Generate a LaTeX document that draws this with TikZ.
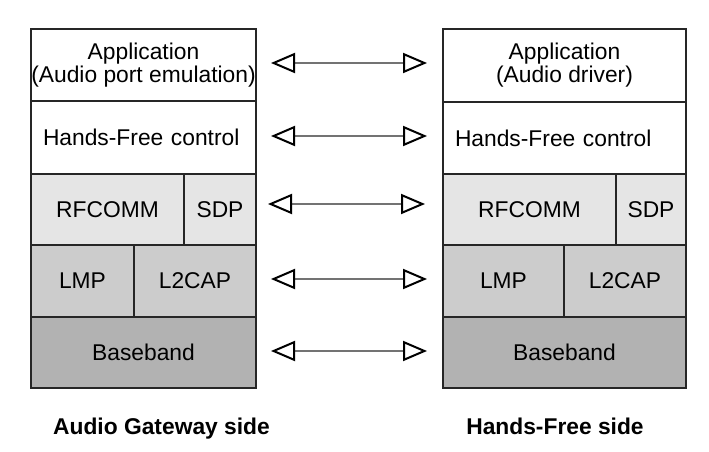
\documentclass[tikz,border=0pt]{standalone}
\usepackage{fontspec}
\setmainfont{Liberation Sans}
\usetikzlibrary{arrows.meta, positioning}

\begin{document}
\begin{tikzpicture}[
    x=1pt, y=-1pt,
    font=\fontsize{22.8}{23}\selectfont,
    layer/.style={rectangle, draw=black!85, line width=1.4pt, inner sep=0pt, outer sep=0pt, align=center},
    toplayer/.style={layer, fill=white},
    upperlayer/.style={layer, fill=black!10},
    lowerlayer/.style={layer, fill=black!20},
    baselayer/.style={layer, fill=black!30},
    ctrl/.style={toplayer, align=left, inner xsep=12pt},
    link/.style={draw=black!55, line width=1.4pt,
        {Triangle[open, length=24pt, width=20pt, line width=2pt, color=black]}-{Triangle[open, length=24pt, width=20pt, line width=2pt, color=black]}},
    side/.style={font=\fontsize{22.8}{23}\selectfont\bfseries, anchor=base}
]
    \useasboundingbox (0,0) rectangle (709,452);

    % Audio Gateway stack
    \node[toplayer, minimum width=225pt, minimum height=72pt] (lapp) at (143.5,65) {Application\\(Audio port emulation)};
    \node[ctrl, minimum width=225pt, minimum height=73pt, text width=201pt, below=0pt of lapp] (lhf) {Hands-Free control};
    \node[upperlayer, minimum width=153pt, minimum height=71pt, anchor=north west] (lrf) at (lhf.south west) {RFCOMM};
    \node[upperlayer, minimum width=72pt, minimum height=71pt, anchor=north west] (lsdp) at (lrf.north east) {SDP};
    \node[lowerlayer, minimum width=103pt, minimum height=72pt, anchor=north west] (llmp) at (lrf.south west) {LMP};
    \node[lowerlayer, minimum width=122pt, minimum height=72pt, anchor=north west] (ll2cap) at (llmp.north east) {L2CAP};
    \node[baselayer, minimum width=225pt, minimum height=71pt, anchor=north west] (lbb) at (llmp.south west) {Baseband};

    % Hands-Free stack
    \node[toplayer, minimum width=243pt, minimum height=73pt] (rapp) at (564.5,65.5) {Application\\(Audio driver)};
    \node[ctrl, minimum width=243pt, minimum height=72pt, text width=219pt, below=0pt of rapp] (rhf) {Hands-Free control};
    \node[upperlayer, minimum width=173pt, minimum height=71pt, anchor=north west] (rrf) at (rhf.south west) {RFCOMM};
    \node[upperlayer, minimum width=70pt, minimum height=71pt, anchor=north west] (rsdp) at (rrf.north east) {SDP};
    \node[lowerlayer, minimum width=121pt, minimum height=72pt, anchor=north west] (rlmp) at (rrf.south west) {LMP};
    \node[lowerlayer, minimum width=122pt, minimum height=72pt, anchor=north west] (rl2cap) at (rlmp.north east) {L2CAP};
    \node[baselayer, minimum width=243pt, minimum height=71pt, anchor=north west] (rbb) at (rlmp.south west) {Baseband};

    % Peer links
    \coordinate (appw) at (271,63);  \coordinate (appe) at (427,63);
    \coordinate (hfw) at (271,136);  \coordinate (hfe) at (427,136);
    \coordinate (rfw) at (268,204);  \coordinate (rfe) at (425,204);
    \coordinate (lmpw) at (271,279); \coordinate (lmpe) at (427,279);
    \coordinate (bbw) at (271,351);  \coordinate (bbe) at (427,351);
    \draw[link] (appw) -- (appe);
    \draw[link] (hfw) -- (hfe);
    \draw[link] (rfw) -- (rfe);
    \draw[link] (lmpw) -- (lmpe);
    \draw[link] (bbw) -- (bbe);

    % Side labels
    \node[side] (gwside) at (161.5,434) {Audio Gateway side};
    \node[side] (hfside) at (555,434) {Hands-Free side};
\end{tikzpicture}
\end{document}
